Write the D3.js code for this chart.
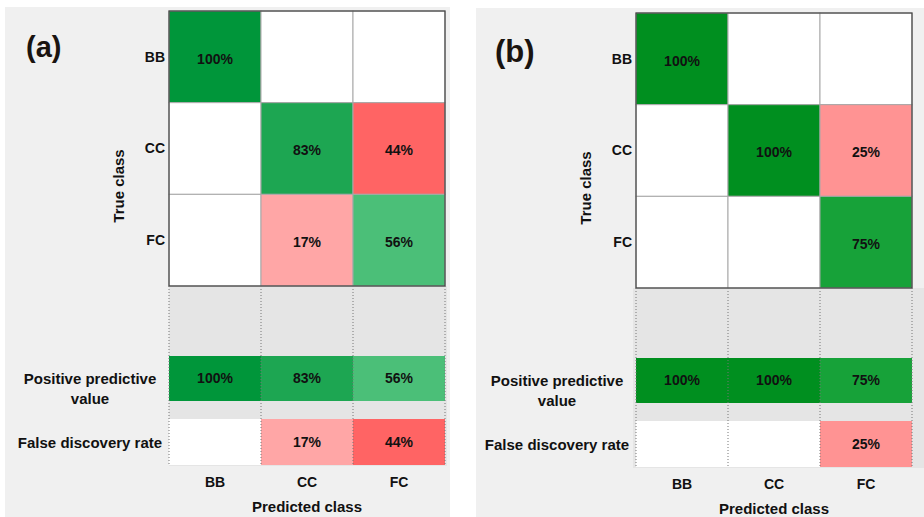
<!DOCTYPE html>
<html>
<head>
<meta charset="utf-8">
<script src="https://cdn.jsdelivr.net/npm/d3@7"></script>
<style>
  body { margin: 0; background: #fff; }
  svg { display: block; font-family: "Liberation Sans", Arial, sans-serif; font-weight: bold; }
</style>
</head>
<body>
<svg id="chart" width="924" height="517"></svg>
<script>
// classes (rows = true class, columns = predicted class)
const classes = ["BB", "CC", "FC"];

// panel (a) values in %, null = empty cell
const matrixA = [
  [100, null, null],
  [null, 83, 44],
  [null, 17, 56]
];
const ppvA = [100, 83, 56];
const fdrA = [null, 17, 44];

// panel (b)
const matrixB = [
  [100, null, null],
  [null, 100, 25],
  [null, null, 75]
];
const ppvB = [100, 100, 75];
const fdrB = [null, null, 25];

const svg = d3.select("#chart");

// layout of each panel
const panels = [
  { tag: "(a)", matrix: matrixA, ppv: ppvA, fdr: fdrA,
    bg: [5, 7, 445, 520], x0: 169, y0: 11, tagX: 26, tagY: 57, tagSize: 29,
    greens: ["#55c580", "#00963a"], lowerX1: 447 },
  { tag: "(b)", matrix: matrixB, ppv: ppvB, fdr: fdrB,
    bg: [476, 8, 460, 520], x0: 636, y0: 13, tagX: 495, tagY: 62, tagSize: 31,
    greens: ["#2db552", "#008f1f"], lowerX1: 924 }
];

const size = 276; // matrix width / height

panels.forEach(p => {
  const g = svg.append("g");

  const x = d3.scaleBand().domain(classes).range([p.x0, p.x0 + size]);
  const y = d3.scaleBand().domain(classes).range([p.y0, p.y0 + size - 1]);
  const green = d3.scaleLinear().domain([50, 100]).range(p.greens);
  const red = d3.scaleLinear().domain([0, 50]).range(["#ffd0d0", "#ff5555"]);

  const bottom = p.y0 + size - 1;
  const ppvY = [bottom + 70, bottom + 115];
  const fdrY = [bottom + 133, bottom + 179];

  // panel background
  g.append("rect")
    .attr("x", p.bg[0]).attr("y", p.bg[1])
    .attr("width", p.bg[2]).attr("height", p.bg[3])
    .attr("fill", "#f0f0f0");

  // darker area below the matrix
  g.append("rect")
    .attr("x", p.x0 - (p.tag === "(b)" ? 3 : 0)).attr("y", bottom)
    .attr("width", p.lowerX1 - p.x0 + (p.tag === "(b)" ? 3 : 0))
    .attr("height", fdrY[1] - bottom + 1)
    .attr("fill", "#e5e5e5");

  // matrix cells
  const cells = [];
  p.matrix.forEach((row, i) => row.forEach((v, j) => cells.push({ r: classes[i], c: classes[j], v, diag: i === j })));

  const colorOf = d => d.v == null ? "#ffffff" : (d.diag ? green(d.v) : red(d.v));

  g.selectAll(".cell").data(cells).enter().append("rect")
    .attr("x", d => x(d.c)).attr("y", d => y(d.r))
    .attr("width", x.bandwidth()).attr("height", y.bandwidth())
    .attr("fill", colorOf)
    .attr("stroke", "#a8a8a8").attr("stroke-width", 1);

  g.append("rect")
    .attr("x", p.x0).attr("y", p.y0)
    .attr("width", size).attr("height", size - 1)
    .attr("fill", "none").attr("stroke", "#444").attr("stroke-width", 1.2);

  g.selectAll(".cellText").data(cells.filter(d => d.v != null)).enter().append("text")
    .attr("x", d => x(d.c) + x.bandwidth() / 2)
    .attr("y", d => y(d.r) + y.bandwidth() / 2 + 2)
    .attr("dy", "0.35em").attr("text-anchor", "middle")
    .attr("font-size", 14).attr("fill", "#111")
    .text(d => d.v + "%");

  // summary rows
  const rows = [
    { vals: p.ppv, ys: ppvY, col: green },
    { vals: p.fdr, ys: fdrY, col: red }
  ];
  rows.forEach(rw => {
    const data = rw.vals.map((v, j) => ({ c: classes[j], v }));
    g.selectAll(null).data(data).enter().append("rect")
      .attr("x", d => x(d.c)).attr("y", rw.ys[0])
      .attr("width", x.bandwidth()).attr("height", rw.ys[1] - rw.ys[0])
      .attr("fill", d => d.v == null ? "#ffffff" : rw.col(d.v));
    g.selectAll(null).data(data.filter(d => d.v != null)).enter().append("text")
      .attr("x", d => x(d.c) + x.bandwidth() / 2)
      .attr("y", (rw.ys[0] + rw.ys[1]) / 2)
      .attr("dy", "0.35em").attr("text-anchor", "middle")
      .attr("font-size", 14).attr("fill", "#111")
      .text(d => d.v + "%");
  });

  // dotted column guides below the matrix
  const edges = classes.map(c => x(c)).concat([p.x0 + size]);
  g.selectAll(null).data(edges).enter().append("line")
    .attr("x1", d => d).attr("x2", d => d)
    .attr("y1", bottom).attr("y2", fdrY[1])
    .attr("stroke", "#777").attr("stroke-width", 1)
    .attr("stroke-dasharray", "1,2");

  // row labels
  g.selectAll(null).data(classes).enter().append("text")
    .attr("x", p.x0 - 4).attr("y", d => y(d) + y.bandwidth() / 2)
    .attr("dy", "0.35em").attr("text-anchor", "end")
    .attr("font-size", 14).attr("fill", "#111")
    .text(d => d);

  // column labels
  g.selectAll(null).data(classes).enter().append("text")
    .attr("x", d => x(d) + x.bandwidth() / 2).attr("y", fdrY[1] + 22)
    .attr("text-anchor", "middle")
    .attr("font-size", 14).attr("fill", "#111")
    .text(d => d);

  // axis titles
  g.append("text")
    .attr("transform", `translate(${p.x0 - 45},${p.y0 + size / 2 + 37}) rotate(-90)`)
    .attr("text-anchor", "middle").attr("font-size", 15).attr("fill", "#111")
    .text("True class");

  g.append("text")
    .attr("x", p.x0 + size / 2).attr("y", fdrY[1] + 47)
    .attr("text-anchor", "middle").attr("font-size", 15).attr("fill", "#111")
    .text("Predicted class");

  // summary row labels
  const lx = p.x0 - 79;
  g.append("text").attr("x", lx).attr("y", (ppvY[0] + ppvY[1]) / 2 + 5)
    .attr("text-anchor", "middle").attr("font-size", 15).attr("fill", "#111")
    .text("Positive predictive");
  g.append("text").attr("x", lx).attr("y", (ppvY[0] + ppvY[1]) / 2 + 25)
    .attr("text-anchor", "middle").attr("font-size", 15).attr("fill", "#111")
    .text("value");
  g.append("text").attr("x", lx).attr("y", (fdrY[0] + fdrY[1]) / 2 + 6)
    .attr("text-anchor", "middle").attr("font-size", 15).attr("fill", "#111")
    .text("False discovery rate");

  // panel tag
  g.append("text").attr("x", p.tagX).attr("y", p.tagY)
    .attr("font-size", p.tagSize).attr("fill", "#1a1410")
    .text(p.tag);
});
</script>
</body>
</html>
